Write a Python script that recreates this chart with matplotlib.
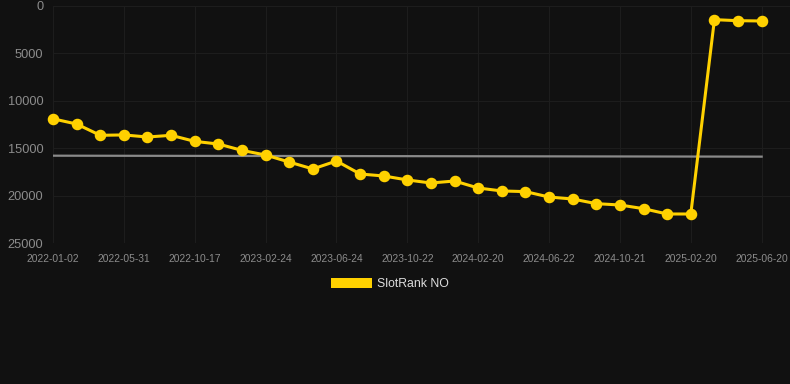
import matplotlib
matplotlib.use("Agg")
import matplotlib.pyplot as plt
from matplotlib.patches import Patch

plt.rcParams["font.family"] = ["Liberation Sans", "DejaVu Sans"]

# tick labels shown on the category axis (every 3rd point)
tick_labels = ["2022-01-02", "2022-05-31", "2022-10-17", "2023-02-24", "2023-06-24",
               "2023-10-22", "2024-02-20", "2024-06-22", "2024-10-21", "2025-02-20",
               "2025-06-20"]

# rank per snapshot (lower is better, y axis inverted)
rank_no = [11900, 12450, 13640, 13600, 13820, 13640, 14280, 14560, 15230, 15720,
           16460, 17190, 16350, 17720, 17930, 18350, 18670, 18460, 19200, 19510,
           19580, 20150, 20360, 20850, 20990, 21380, 21940, 21940, 1440, 1550, 1580]

# grey reference line, start and end value
ref_line = [15790, 15890]

BG = "#111111"
YELLOW = "#ffd100"

fig = plt.figure(figsize=(7.9, 3.84), dpi=100, facecolor=BG)
ax = fig.add_axes([53 / 790, 1 - 243 / 384, 1 - 53 / 790, 237 / 384])
ax.set_facecolor(BG)

x = list(range(len(rank_no)))
ax.plot([x[0], x[-1]], ref_line, color="#8a8a8a", lw=1.6, zorder=2)
ax.plot(x, rank_no, color=YELLOW, lw=2.2, marker="o", ms=7.3, zorder=3, clip_on=False)

ax.set_ylim(25000, 0)
ax.set_yticks([0, 5000, 10000, 15000, 20000, 25000])
ax.set_xlim(0, 31.2)
ax.set_xticks(x[::3])
ax.set_xticklabels(tick_labels)

ax.grid(True, color="#1d1d1d", lw=0.8)
ax.set_axisbelow(True)
for s in ax.spines.values():
    s.set_visible(False)
ax.tick_params(axis="y", length=0, pad=7, labelsize=9.2, labelcolor="#8c8c8c")
ax.tick_params(axis="x", length=0, pad=8, labelsize=7.4, labelcolor="#8c8c8c")

fig.legend(handles=[Patch(facecolor=YELLOW, edgecolor="none", label="SlotRank NO")],
           loc="center", bbox_to_anchor=(0.494, 1 - 284 / 384), frameon=False,
           handlelength=3.3, handleheight=0.95, handletextpad=0.45,
           prop={"size": 8.8}, labelcolor="#dddddd")

fig.savefig("out.png", dpi=100, facecolor=BG)
